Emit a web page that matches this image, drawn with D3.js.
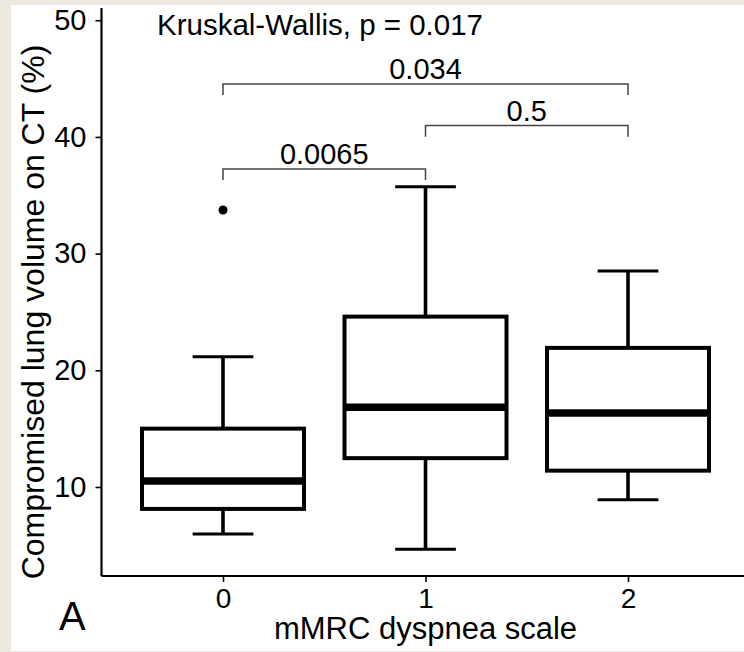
<!DOCTYPE html>
<html>
<head>
<meta charset="utf-8">
<script src="https://cdn.jsdelivr.net/npm/d3@7"></script>
<style>
  html, body { margin: 0; padding: 0; background: #ffffff; }
  svg { display: block; }
  text { font-family: "Liberation Sans", Arial, sans-serif; fill: #000; }
</style>
</head>
<body>
<svg id="chart" width="744" height="652"></svg>
<script>
// mMRC dyspnea grade groups
const categories = ["0", "1", "2"];
// Box statistics per group (compromised lung volume, %)
const lowerWhisker = [5.98, 4.67, 8.9];
const q1 = [8.12, 12.47, 11.4];
const median = [10.52, 16.84, 16.35];
const q3 = [15.0, 24.6, 21.92];
const upperWhisker = [21.17, 35.74, 28.5];
// Outlying observations: [group, value]
const outliers = [["0", 33.74]];
// Pairwise comparisons: group a, group b, bracket level, p-value label
const compA = ["0", "1", "0"];
const compB = ["1", "2", "2"];
const compLevel = [37.26, 40.97, 44.54];
const compLabel = ["0.0065", "0.5", "0.034"];
const yTicks = [10, 20, 30, 40, 50];
const globalTest = "Kruskal-Wallis, p = 0.017";

const svg = d3.select("#chart");
const W = 744, H = 652;
const FONT = "'Liberation Sans', Arial, sans-serif";

// page frame
svg.append("rect").attr("x", 0).attr("y", 0).attr("width", W).attr("height", H).attr("fill", "#ece9e1");
svg.append("rect").attr("x", 11).attr("y", 5).attr("width", W - 11).attr("height", H - 6).attr("fill", "#ffffff");

// scales: discrete groups placed on a continuous index with 0.6 padding
const xIdx = d3.scaleLinear().domain([-0.6, 2.6]).range([101.5, 749.5]);
const x = c => xIdx(categories.indexOf(c));
const y = d3.scaleLinear().domain([2.37, 51.05]).range([576, 8]);
const boxHalf = xIdx(0.4) - xIdx(0);
const capHalf = boxHalf * 0.375;

const plot = svg.append("g");

// y axis
const yAxis = d3.axisLeft(y).tickValues(yTicks).tickSize(6).tickPadding(9).tickFormat(d3.format("d"));
const gy = svg.append("g").attr("transform", `translate(${xIdx(-0.6)},0)`).call(yAxis);
gy.select(".domain").attr("stroke", "#000").attr("stroke-width", 2.2)
  .attr("d", `M0,${y.range()[0]}V${y.range()[1]}`);
gy.selectAll(".tick line").attr("stroke", "#000").attr("stroke-width", 1.6);
gy.selectAll(".tick text").attr("font-size", 29).attr("fill", "#000").style("font-family", FONT);

// x axis
const xAxisScale = d3.scalePoint().domain(categories).range([x("0"), x("2")]);
const xAxis = d3.axisBottom(xAxisScale).tickSize(6).tickPadding(6);
const gx = svg.append("g").attr("transform", `translate(0,${y.range()[0]})`).call(xAxis);
gx.select(".domain").attr("stroke", "#000").attr("stroke-width", 2.2)
  .attr("d", `M${xIdx(-0.6)},0H${W}`);
gx.selectAll(".tick line").attr("stroke", "#000").attr("stroke-width", 1.6);
gx.selectAll(".tick text").attr("font-size", 28).attr("fill", "#000").style("font-family", FONT);

// boxes
const groups = categories.map((c, i) => ({
  c, lo: lowerWhisker[i], q1: q1[i], med: median[i], q3: q3[i], hi: upperWhisker[i]
}));
const bg = plot.selectAll("g.box").data(groups).join("g").attr("class", "box");
// whiskers
bg.append("line").attr("x1", d => x(d.c)).attr("x2", d => x(d.c))
  .attr("y1", d => y(d.q3)).attr("y2", d => y(d.hi)).attr("stroke", "#000").attr("stroke-width", 3.6);
bg.append("line").attr("x1", d => x(d.c)).attr("x2", d => x(d.c))
  .attr("y1", d => y(d.q1)).attr("y2", d => y(d.lo)).attr("stroke", "#000").attr("stroke-width", 3.6);
// whisker caps
bg.append("line").attr("x1", d => x(d.c) - capHalf).attr("x2", d => x(d.c) + capHalf)
  .attr("y1", d => y(d.hi)).attr("y2", d => y(d.hi)).attr("stroke", "#000").attr("stroke-width", 3);
bg.append("line").attr("x1", d => x(d.c) - capHalf).attr("x2", d => x(d.c) + capHalf)
  .attr("y1", d => y(d.lo)).attr("y2", d => y(d.lo)).attr("stroke", "#000").attr("stroke-width", 3);
// box body
bg.append("rect").attr("x", d => x(d.c) - boxHalf).attr("width", boxHalf * 2)
  .attr("y", d => y(d.q3)).attr("height", d => y(d.q1) - y(d.q3))
  .attr("fill", "#fff").attr("stroke", "#000").attr("stroke-width", 4);
// median
bg.append("line").attr("x1", d => x(d.c) - boxHalf).attr("x2", d => x(d.c) + boxHalf)
  .attr("y1", d => y(d.med)).attr("y2", d => y(d.med)).attr("stroke", "#000").attr("stroke-width", 7.5);

// outliers
plot.selectAll("circle.out").data(outliers).join("circle").attr("class", "out")
  .attr("cx", d => x(d[0])).attr("cy", d => y(d[1])).attr("r", 4.5).attr("fill", "#000");

// comparison brackets
const tip = 0.95;
const comps = compA.map((a, i) => ({ a, b: compB[i], lvl: compLevel[i], lab: compLabel[i] }));
const cg = plot.selectAll("g.cmp").data(comps).join("g").attr("class", "cmp");
cg.append("path")
  .attr("d", d => `M${x(d.a)},${y(d.lvl - tip)}V${y(d.lvl)}H${x(d.b)}V${y(d.lvl - tip)}`)
  .attr("fill", "none").attr("stroke", "#444").attr("stroke-width", 1.5);
cg.append("text").attr("x", d => (x(d.a) + x(d.b)) / 2).attr("y", d => y(d.lvl) - 4.5)
  .attr("text-anchor", "middle").attr("font-size", 29).text(d => d.lab);

// global test label
svg.append("text").attr("x", 157).attr("y", 35).attr("font-size", 29.5).text(globalTest);

// axis titles
svg.append("text").attr("x", x("1")).attr("y", 639).attr("text-anchor", "middle")
  .attr("font-size", 31).text("mMRC dyspnea scale");
svg.append("text").attr("transform", `translate(44,${312}) rotate(-90)`)
  .attr("text-anchor", "middle").attr("font-size", 32).text("Compromised lung volume on CT (%)");

// panel tag
svg.append("text").attr("x", 59).attr("y", 630).attr("font-size", 40).text("A");
</script>
</body>
</html>
